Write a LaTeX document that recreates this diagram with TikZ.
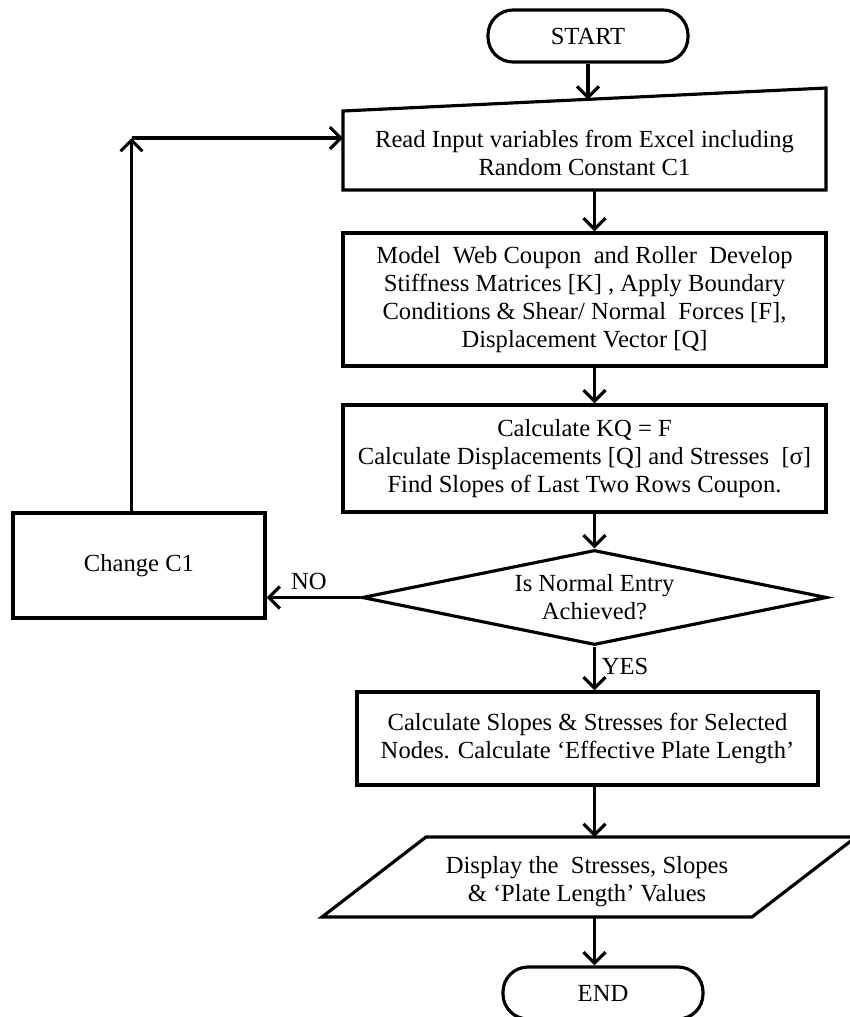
\documentclass[tikz,border=0pt]{standalone}
\usepackage{fontspec}
\setmainfont{Liberation Serif}
\usetikzlibrary{shapes.geometric,arrows.meta}

\begin{document}
\begin{tikzpicture}[
    font=\fontsize{14}{16}\selectfont,
    every node/.style={align=center},
    line width=1.8pt,
    flow/.style={-{Straight Barb[length=2.2mm,width=4.4mm]}},
    procbox/.style={draw,rectangle,inner sep=0pt},
    termbox/.style={draw,rectangle,rounded corners=0.5cm,minimum width=4cm,minimum height=1.04cm},
    decide/.style={draw,diamond,aspect=5,inner sep=0pt,minimum width=9.3cm,minimum height=1.9cm}
  ]
  \useasboundingbox (0,0) rectangle (17,-20.34);

  \node[termbox] (start) at (11.76,-0.72) {START};

  % manual input
  \draw (6.86,-2.22) -- (16.52,-1.76) -- (16.52,-3.80) -- (6.86,-3.80) -- cycle;
  \coordinate (readtop) at (11.76,-1.99);
  \coordinate (readbot) at (11.89,-3.80);
  \coordinate (readin) at (6.86,-2.76);
  \node (read) at (11.69,-3.06) {Read Input variables from Excel including\\Random Constant C1};

  \node[procbox,minimum width=9.66cm,minimum height=2.66cm] (model) at (11.69,-5.99)
    {Model\ \ Web Coupon\ \ and Roller\ \ Develop\\Stiffness Matrices [K] , Apply Boundary\\Conditions \& Shear/ Normal\ \ Forces [F],\\Displacement Vector [Q]};
  \node[procbox,minimum width=9.66cm,minimum height=2.14cm] (calc) at (11.69,-9.17)
    {Calculate KQ = F\\Calculate Displacements [Q] and Stresses\ \ [σ]\\Find Slopes of Last Two Rows Coupon.};

  \node[decide] (chk) at (11.89,-11.95) {};
  \node at (11.89,-11.95) {Is Normal Entry\\Achieved?};

  \node[procbox,minimum width=5.04cm,minimum height=2.1cm] (change) at (2.78,-11.31) {Change C1};
  \coordinate (corner) at (2.63,-2.76);

  \node[procbox,minimum width=9.22cm,minimum height=1.86cm] (slopes) at (11.75,-14.77)
    {Calculate Slopes \& Stresses for Selected\\Nodes. Calculate `Effective Plate Length'};

  % output
  \draw (6.44,-18.34) -- (8.52,-16.74) -- (17.12,-16.74) -- (15.04,-18.34) -- cycle;
  \coordinate (disptop) at (11.89,-16.74);
  \coordinate (dispbot) at (11.89,-18.34);
  \node (disp) at (11.74,-17.64) {Display the\ \ Stresses, Slopes\\\& `Plate Length' Values};

  \node[termbox] (end) at (12.06,-19.86) {END};

  \draw[flow] (start.south) -- (readtop);
  \draw[flow] (readbot) -- (readbot |- model.north);
  \draw[flow] (model.south -| chk.north) -- (calc.north -| chk.north);
  \draw[flow] (calc.south -| chk.north) -- (chk.north);
  \draw[flow] (chk.west) -- node[above,pos=0.55] {NO} (chk.west -| change.east);
  \draw[flow] (change.north -| corner) -- (corner);
  \draw[flow] (corner) -- (readin);
  \draw[flow] (chk.south) -- node[right,pos=0.45] {YES} (chk.south |- slopes.north);
  \draw[flow] (slopes.south -| disptop) -- (disptop);
  \draw[flow] (dispbot) -- (dispbot |- end.north);
\end{tikzpicture}
\end{document}
